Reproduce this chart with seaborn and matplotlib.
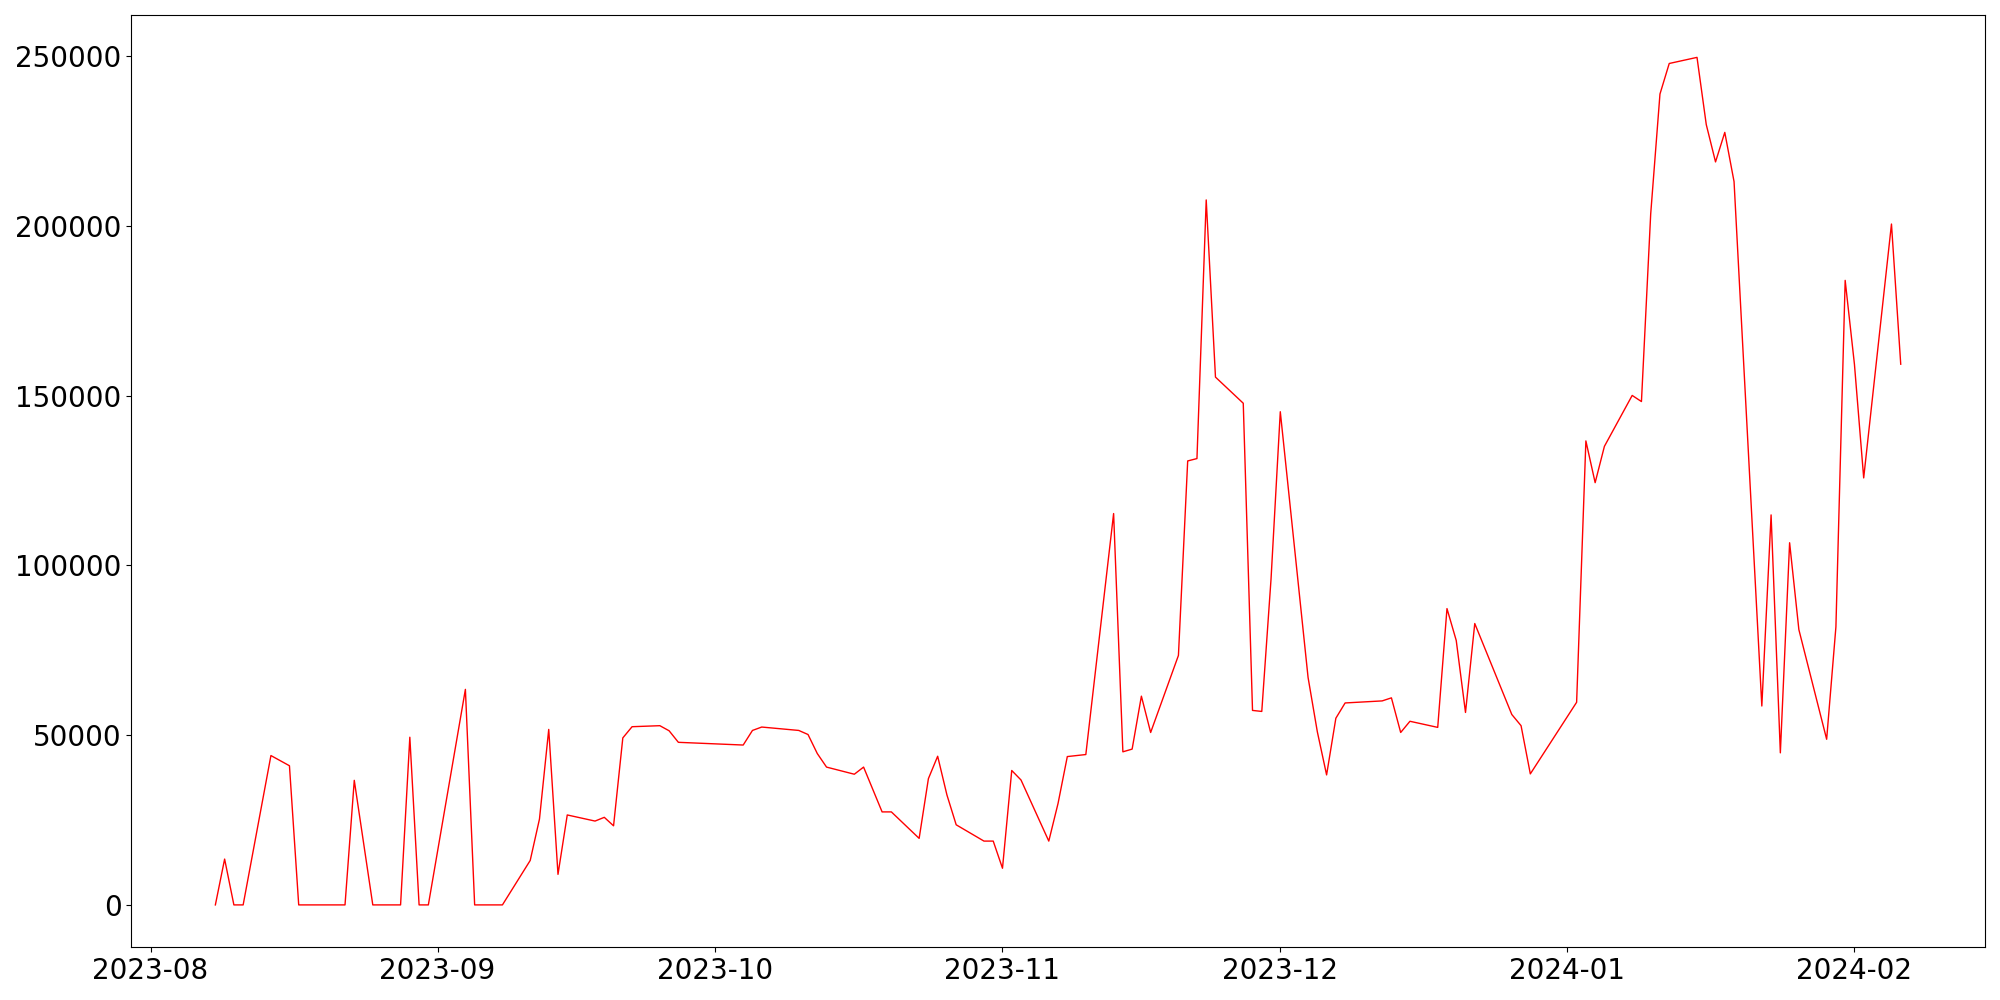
import matplotlib
matplotlib.use("Agg")
import matplotlib.pyplot as plt
import seaborn as sns
import pandas as pd

dates = [
    "2023-08-08", "2023-08-09", "2023-08-10", "2023-08-11", "2023-08-14", "2023-08-16",
    "2023-08-17", "2023-08-22", "2023-08-23", "2023-08-25", "2023-08-28", "2023-08-29",
    "2023-08-30", "2023-08-31", "2023-09-04", "2023-09-05", "2023-09-08", "2023-09-11",
    "2023-09-12", "2023-09-13", "2023-09-14", "2023-09-15", "2023-09-18", "2023-09-19",
    "2023-09-20", "2023-09-21", "2023-09-22", "2023-09-25", "2023-09-26", "2023-09-27",
    "2023-10-04", "2023-10-05", "2023-10-06", "2023-10-10", "2023-10-11", "2023-10-12",
    "2023-10-13", "2023-10-16", "2023-10-17", "2023-10-19", "2023-10-20", "2023-10-23",
    "2023-10-24", "2023-10-25", "2023-10-26", "2023-10-27", "2023-10-30", "2023-10-31",
    "2023-11-01", "2023-11-02", "2023-11-03", "2023-11-06", "2023-11-07", "2023-11-08",
    "2023-11-10", "2023-11-13", "2023-11-14", "2023-11-15", "2023-11-16", "2023-11-17",
    "2023-11-20", "2023-11-21", "2023-11-22", "2023-11-23", "2023-11-24", "2023-11-27",
    "2023-11-28", "2023-11-29", "2023-11-30", "2023-12-01", "2023-12-04", "2023-12-05",
    "2023-12-06", "2023-12-07", "2023-12-08", "2023-12-12", "2023-12-13", "2023-12-14",
    "2023-12-15", "2023-12-18", "2023-12-19", "2023-12-20", "2023-12-21", "2023-12-22",
    "2023-12-26", "2023-12-27", "2023-12-28", "2024-01-02", "2024-01-03", "2024-01-04",
    "2024-01-05", "2024-01-08", "2024-01-09", "2024-01-10", "2024-01-11", "2024-01-12",
    "2024-01-15", "2024-01-16", "2024-01-17", "2024-01-18", "2024-01-19", "2024-01-22",
    "2024-01-23", "2024-01-24", "2024-01-25", "2024-01-26", "2024-01-29", "2024-01-30",
    "2024-01-31", "2024-02-01", "2024-02-02", "2024-02-05", "2024-02-06",
]

values = [
    0, 13500, 0, 0, 44000, 41000,
    0, 0, 36700, 0, 0, 49400,
    0, 0, 63500, 0, 0, 13100,
    25300, 51700, 9000, 26500, 24700, 25800,
    23300, 49200, 52500, 52800, 51300, 47900,
    47100, 51400, 52400, 51400, 50200, 44600,
    40600, 38500, 40600, 27400, 27400, 19600,
    37200, 43800, 32400, 23600, 18800, 18800,
    10800, 39600, 36800, 18800, 29900, 43700,
    44300, 115300, 45100, 45900, 61500, 50800,
    73500, 130800, 131500, 207700, 155500, 147800,
    57300, 57000, 96000, 145300, 67000, 51000,
    38300, 55000, 59500, 60100, 61000, 50800,
    54100, 52300, 87300, 77900, 56700, 82900,
    56100, 52800, 38600, 59700, 136700, 124400,
    135100, 150100, 148300, 203600, 238900, 247900,
    249700, 229900, 218900, 227600, 213100, 58600,
    114900, 44800, 106700, 81100, 48800, 81900,
    184000, 159300, 125800, 200600, 159300,
]

df = pd.DataFrame({"date": pd.to_datetime(dates), "value": values})

fig, ax = plt.subplots(figsize=(20, 10), dpi=100)
sns.lineplot(data=df, x="date", y="value", color="red", linewidth=1.0, ax=ax)
ax.set_xlabel("")
ax.set_ylabel("")
ax.tick_params(axis="both", labelsize=20)
fig.tight_layout()
fig.savefig("out.png", dpi=100)
